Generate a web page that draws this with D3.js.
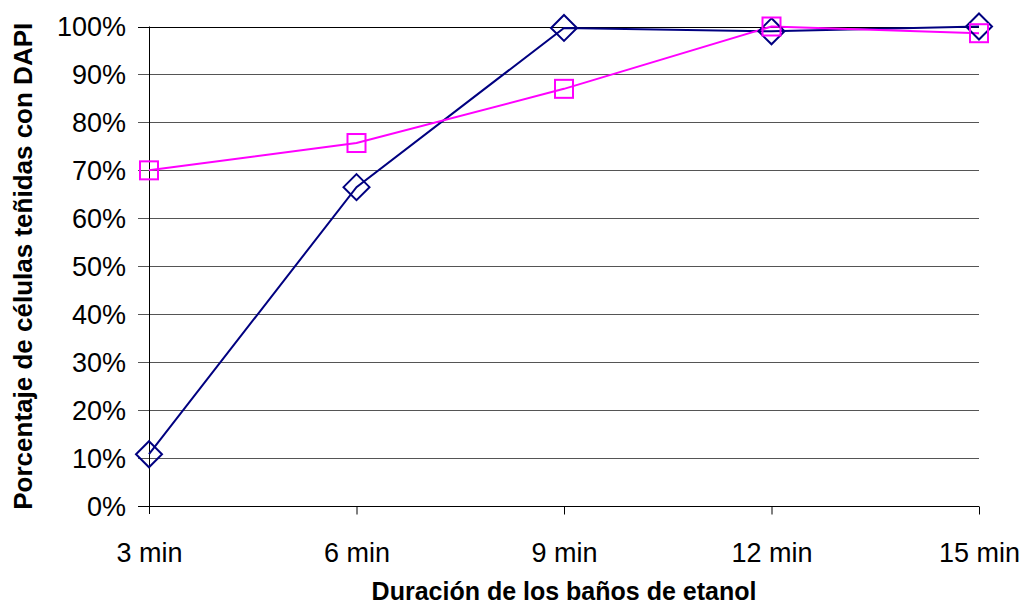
<!DOCTYPE html>
<html>
<head>
<meta charset="utf-8">
<script src="https://cdn.jsdelivr.net/npm/d3@7"></script>
<style>
  body { margin: 0; background: #fff; }
  text { font-family: "Liberation Sans", Arial, sans-serif; }
</style>
</head>
<body>
<div id="chart"></div>
<script>
// categories and series values
const categories = ["3 min", "6 min", "9 min", "12 min", "15 min"];
const seriesBlue = [0.108, 0.665, 0.997, 0.99, 1.0];
const seriesPink = [0.70, 0.757, 0.87, 1.0, 0.986];
const yTicks = [0, 0.1, 0.2, 0.3, 0.4, 0.5, 0.6, 0.7, 0.8, 0.9, 1.0];

const width = 1026;
const height = 607;
const marginTop = 26.5;
const marginRight = 47;
const marginBottom = 101;
const marginLeft = 149;

const x = d3.scalePoint()
    .domain(categories)
    .range([marginLeft, width - marginRight]);

const y = d3.scaleLinear()
    .domain([0, 1])
    .range([height - marginBottom, marginTop]);

const svg = d3.select("#chart")
    .append("svg")
    .attr("width", width)
    .attr("height", height)
    .attr("viewBox", [0, 0, width, height]);

// gridlines (extended left as tick marks)
svg.append("g")
    .selectAll()
    .data(yTicks.filter(d => d > 0))
    .join("line")
    .attr("x1", marginLeft - 11)
    .attr("x2", width - marginRight)
    .attr("y1", d => Math.round(y(d)) + 0.5)
    .attr("y2", d => Math.round(y(d)) + 0.5)
    .attr("stroke", d => d === 1 ? "#000" : "#555")
    .attr("stroke-width", 1);

// y axis labels
svg.append("g")
    .selectAll()
    .data(yTicks)
    .join("text")
    .attr("x", 126)
    .attr("y", d => y(d))
    .attr("dy", "0.36em")
    .attr("text-anchor", "end")
    .style("font-size", "27px")
    .attr("fill", "#000")
    .text(d => Math.round(d * 100) + "%");

// left axis line
svg.append("line")
    .attr("x1", marginLeft + 0.5).attr("x2", marginLeft + 0.5)
    .attr("y1", y(1)).attr("y2", y(0) + 8)
    .attr("stroke", "#000");

// bottom axis
svg.append("g")
    .attr("transform", `translate(0,${Math.round(y(0)) + 0.5})`)
    .call(d3.axisBottom(x).tickSize(8).tickSizeOuter(0).tickPadding(0))
    .call(g => g.select(".domain").attr("d", `M${marginLeft - 11},0H${width - marginRight}`))
    .call(g => g.selectAll(".tick line").attr("stroke", "#000"))
    .call(g => g.selectAll(".tick text")
        .attr("y", 55)
        .attr("dy", null)
        .style("font-size", "27px")
        .style("font-family", "'Liberation Sans', Arial, sans-serif")
        .attr("fill", "#000"));
svg.select(".tick:first-of-type line").remove();

// lines
const line = d3.line()
    .x((d, i) => x(categories[i]))
    .y(d => y(d));

svg.append("path")
    .datum(seriesBlue)
    .attr("fill", "none")
    .attr("stroke", "#000080")
    .attr("stroke-width", 2)
    .attr("d", line);

svg.append("path")
    .datum(seriesPink)
    .attr("fill", "none")
    .attr("stroke", "#FF00FF")
    .attr("stroke-width", 2)
    .attr("d", line);

// diamond markers
svg.append("g")
    .selectAll()
    .data(seriesBlue)
    .join("path")
    .attr("transform", (d, i) => `translate(${x(categories[i])},${y(d)})`)
    .attr("d", "M0,-13L13,0L0,13L-13,0Z")
    .attr("fill", "none")
    .attr("stroke", "#000080")
    .attr("stroke-width", 2);

// square markers
svg.append("g")
    .selectAll()
    .data(seriesPink)
    .join("rect")
    .attr("x", (d, i) => x(categories[i]) - 9)
    .attr("y", d => y(d) - 9)
    .attr("width", 18)
    .attr("height", 18)
    .attr("fill", "none")
    .attr("stroke", "#FF00FF")
    .attr("stroke-width", 2);

// axis titles
svg.append("text")
    .attr("x", 564)
    .attr("y", 600)
    .attr("text-anchor", "middle")
    .style("font-size", "25px")
    .style("font-weight", "bold")
    .text("Duración de los baños de etanol");

svg.append("text")
    .attr("transform", `translate(32,${(y(0) + y(1)) / 2}) rotate(-90)`)
    .attr("text-anchor", "middle")
    .style("font-size", "26px")
    .style("font-weight", "bold")
    .text("Porcentaje de células teñidas con DAPI");
</script>
</body>
</html>
